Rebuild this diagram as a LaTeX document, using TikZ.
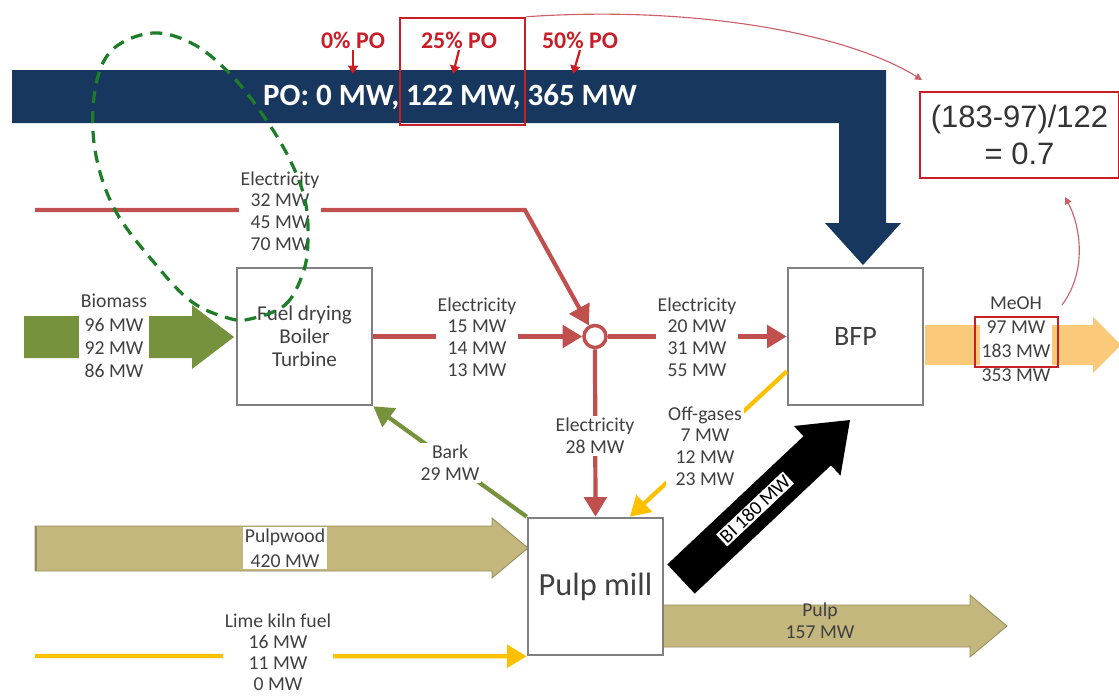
\documentclass[tikz,border=0pt]{standalone}
\usepackage{fontspec}
\setmainfont{Carlito}
\newfontfamily\arialfont{Liberation Sans}
\usetikzlibrary{arrows.meta}
\usetikzlibrary{calc}
\usetikzlibrary{positioning}

\definecolor{navyband}{RGB}{23,55,94}
\definecolor{elecred}{RGB}{192,80,77}
\definecolor{pored}{RGB}{200,30,40}
\definecolor{notered}{RGB}{205,95,105}
\definecolor{fuelgreen}{RGB}{118,146,60}
\definecolor{ringgreen}{RGB}{30,125,40}
\definecolor{woodtan}{RGB}{196,183,126}
\definecolor{woodedge}{RGB}{150,140,92}
\definecolor{limeyellow}{RGB}{255,192,0}
\definecolor{meohorange}{RGB}{250,202,122}
\definecolor{boxgray}{RGB}{128,128,128}
\definecolor{labelgray}{RGB}{64,64,64}

\begin{document}
\begin{tikzpicture}[x=0.025cm,y=-0.025cm,
  plantbox/.style={rectangle,draw=boxgray,line width=1.8pt,fill=white,minimum width=3.375cm,minimum height=3.425cm,text=labelgray,align=center},
  flowlabel/.style={fill=white,align=center,inner sep=1.5pt,text=labelgray,font=\fontsize{14}{15.5}\selectfont},
  elecflow/.style={elecred,line width=3pt,-{Triangle[length=14pt,width=16pt]}},
  gasflow/.style={limeyellow,line width=3pt,-{Triangle[length=14pt,width=16pt]}},
  limeflow/.style={limeyellow,line width=3pt,-{Triangle[length=14pt,width=16pt]}},
  barkflow/.style={fuelgreen,line width=3pt,-{Triangle[length=14pt,width=16pt]}},
  woodflow/.style={fill=woodtan,draw=woodedge,line width=0.6pt},
  poarrow/.style={pored,line width=1.6pt,-{Triangle[length=6pt,width=7pt]}},
  polabel/.style={text=pored,inner sep=1pt,font=\bfseries\fontsize{17}{20}\selectfont},
  ratioarrow/.style={notered,line width=0.8pt,-{Triangle[length=5pt,width=5pt]}},
  focusring/.style={ringgreen,line width=2.3pt,dash pattern=on 8.5pt off 5.7pt}]
\useasboundingbox (0,0) rectangle (1119,697);

% broad flows
\fill[navyband] (12,70) -- (886,70) -- (886,223) -- (901,223) -- (863,265) -- (825,223) -- (839,223) -- (839,123) -- (12,123) -- cycle;
\fill[fuelgreen] (24,316) -- (192,316) -- (192,305) -- (234,337) -- (192,369) -- (192,358) -- (24,358) -- cycle;
\filldraw[woodflow] (35,526) -- (492,526) -- (492,518) -- (528,548) -- (492,578) -- (492,571) -- (35,571) -- cycle;
\draw[woodedge,line width=2pt] (36,526) -- (36,571);
\filldraw[woodflow] (663,605) -- (970,605) -- (970,595) -- (1007,626) -- (970,657) -- (970,647) -- (663,647) -- cycle;
\fill[meohorange] (925,325) -- (1093,325) -- (1093,317) -- (1121,345) -- (1093,373) -- (1093,365) -- (925,365) -- cycle;
\fill[black] (667.3,564.4) -- (803.5,436.2) -- (793.9,426.0) -- (850,420) -- (840.5,475.6) -- (830.9,465.4) -- (694.7,593.6) -- cycle;

% power options
\node[text=white,font=\bfseries\fontsize{22}{26}\selectfont] (potext) at (450,97) {PO: 0 MW, 122 MW, 365 MW};
\node[polabel] (po0) at (353,40) {0\% PO};
\node[polabel] (po25) at (459,40) {25\% PO};
\node[polabel] (po50) at (580,40) {50\% PO};
\draw[poarrow] (po0.south) -- ++(0,24);
\draw[poarrow] (po25.south) -- ++(-6,24);
\draw[poarrow] (po50.south) -- ++(-7,24);
\node[draw=pored,line width=1.8pt,minimum width=3.125cm,minimum height=2.675cm] (sel) at (462.5,71.5) {};

% plants
\node[plantbox,font=\fontsize{15}{16.5}\selectfont] (boiler) at (304.5,336.5) {Fuel drying\\Boiler\\Turbine};
\node[plantbox,font=\fontsize{20}{24}\selectfont] (bfp) at (855.5,336.5) {BFP};
\node[plantbox,font=\fontsize{23}{27}\selectfont] (pulpmill) at (595.5,586.5) {Pulp mill};
\node[circle,draw=elecred,line width=2.5pt,fill=white,minimum size=0.55cm,inner sep=0pt] (junction) at (595,336.5) {};

% thin flows
\coordinate (elecin) at (35,210);
\coordinate (elecbend) at (525,210);
\coordinate (limein) at (35,656);
\draw[elecflow] (elecin) -- (elecbend) -- (junction);
\draw[elecflow] (boiler.east) -- (junction.west);
\draw[elecflow] (junction.east) -- (bfp.west);
\draw[elecflow] (junction.south) -- (pulpmill.north);
\draw[gasflow] ($(bfp.west)!0.5!(bfp.south west)$) -- ($(pulpmill.north)!0.5!(pulpmill.north east)$);
\draw[barkflow] (pulpmill.north west) -- (boiler.south east);
\draw[limeflow] (limein) -- (pulpmill.south west);

% labels
\node[flowlabel] (elecsupply) at (280,211) {Electricity\\32 MW\\45 MW\\70 MW};
\node[flowlabel] (elecchp) at (477,337) {Electricity\\15 MW\\14 MW\\13 MW};
\node[flowlabel] (elecbfp) at (697,337) {Electricity\\20 MW\\31 MW\\55 MW};
\node[flowlabel] (elecmill) at (595,436) {Electricity\\28 MW};
\node[flowlabel] (offgas) at (705,446) {Off-gases\\7 MW\\12 MW\\23 MW};
\node[flowlabel] (bark) at (450,463) {Bark\\29 MW};
\node[flowlabel,font=\fontsize{14}{16.5}\selectfont] (biomass) at (114,336) {Biomass\\96 MW\\92 MW\\86 MW};
\node[flowlabel,font=\fontsize{14}{17.5}\selectfont] (pulpwood) at (285,548) {Pulpwood\\420 MW};
\node[flowlabel,font=\fontsize{14}{15}\selectfont] (limekiln) at (278,652) {Lime kiln fuel\\16 MW\\11 MW\\0 MW};
\node[flowlabel,font=\fontsize{14}{17}\selectfont] (meoh) at (1016,339) {MeOH\\97 MW\\183 MW\\353 MW};
\node[align=center,text=labelgray,font=\fontsize{14}{15.5}\selectfont] (pulp) at (820,621) {Pulp\\157 MW};
\node[fill=white,text=black,rotate=43.3,inner sep=1pt,font=\fontsize{14}{16}\selectfont] (bilabel) at (755,509) {BI 180 MW};
\draw[pored,line width=1.6pt] (975,317) rectangle (1058,367);

% efficiency note
\node[draw=pored,line width=2pt,minimum width=4.975cm,minimum height=2.15cm,align=center,font=\arialfont\fontsize{22}{26}\selectfont,text=black!80] (ratio) at (1019.5,135) {(183-97)/122\\= 0.7};
\coordinate (ratiotop) at (922,80);
\coordinate (ratiobelow) at (1065,197);
\coordinate (meohnote) at (1062,305);
\draw[ratioarrow] (sel.north east) .. controls (700,5) and (850,35) .. (ratiotop);
\draw[ratioarrow] (meohnote) .. controls (1088,270) and (1080,225) .. (ratiobelow);

% focus ring
\draw[focusring] plot[smooth cycle, tension=0.6] coordinates {(250,319) (285,305) (303,273) (308,240) (305,200) (290,160) (265,118) (233,77) (195,45) (153,33) (112,50) (95,90) (95,150) (115,210) (157,266) (192,302) (228,318)};

\end{tikzpicture}
\end{document}
